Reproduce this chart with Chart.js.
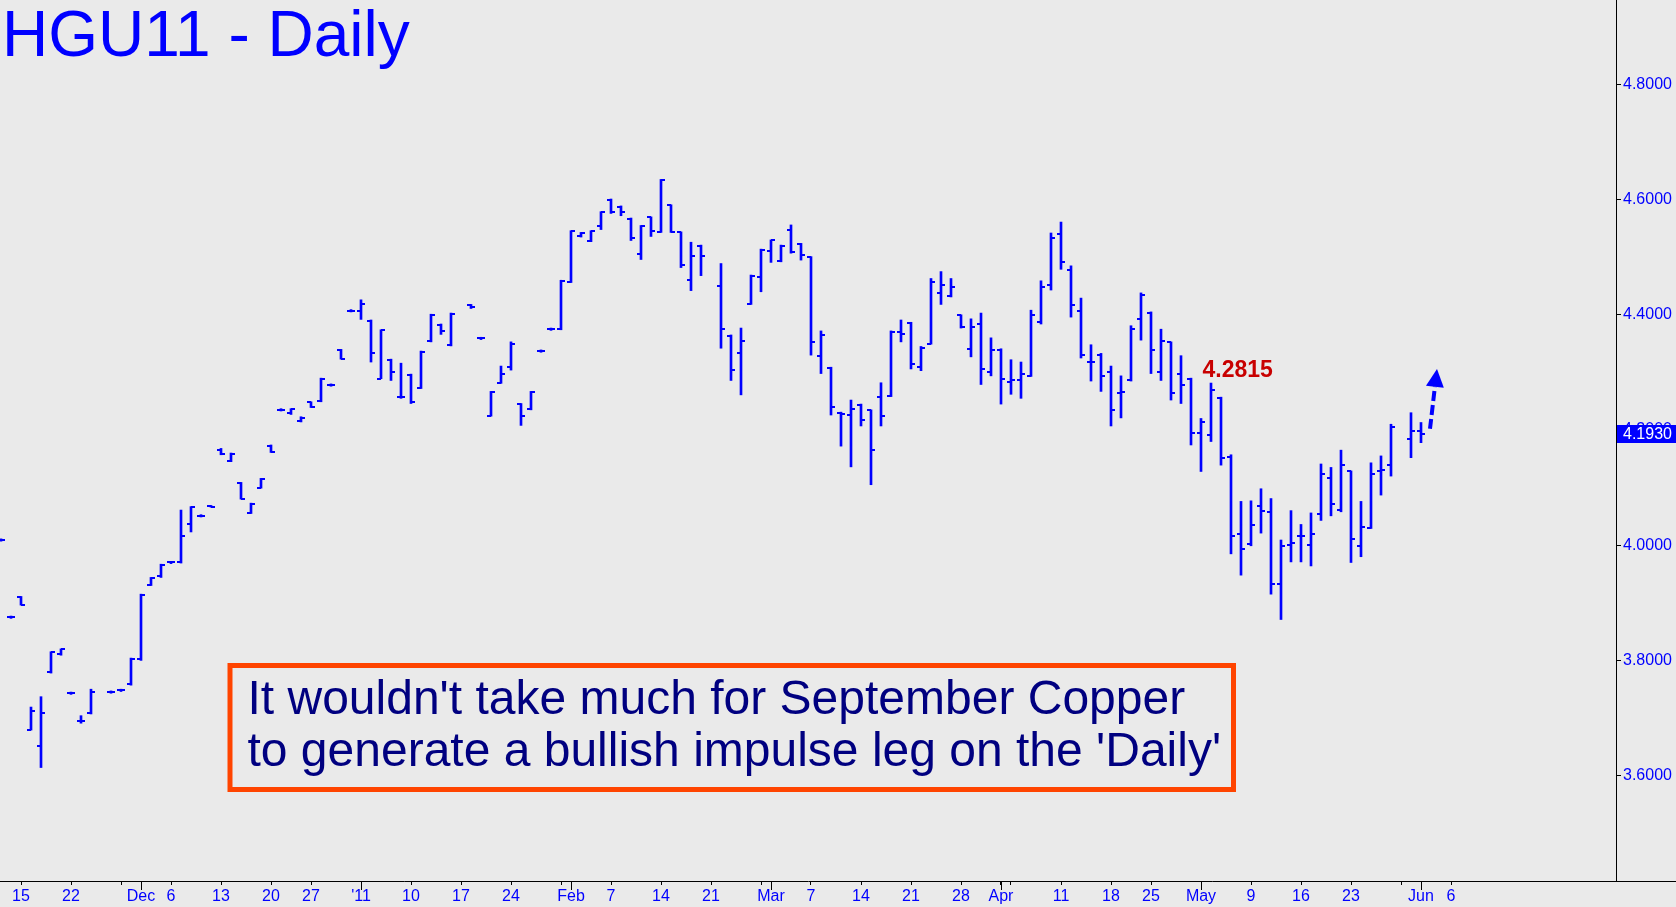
<!DOCTYPE html>
<html>
<head>
<meta charset="utf-8">
<script src="https://cdn.jsdelivr.net/npm/chart.js@4.4.1/dist/chart.umd.min.js"></script>
<style>
  html, body { margin: 0; padding: 0; background: #EAEAEA; }
  #wrap { width: 1676px; height: 907px; }
</style>
</head>
<body>
<div id="wrap"><canvas id="priceChart" width="1676" height="907"></canvas></div>
<script>
// ── Daily bars, HGU11 (slot = trading-day index, Nov 15 = 0) ──
const slots = [-2, -1, 0, 1, 2, 3, 4, 5, 6, 7, 9, 10, 11, 12, 13, 14, 15, 16, 17, 18, 19,
  20, 21, 22, 23, 24, 25, 26, 27, 28, 29, 30, 31, 32, 33, 34, 35, 36, 37, 38, 39,
  40, 41, 42, 43, 45, 46, 47, 48, 49, 50, 51, 52, 53, 54, 55, 56, 57, 58, 59,
  60, 61, 62, 63, 64, 65, 66, 67, 68, 70, 71, 72, 73, 74, 75, 76, 77, 78, 79,
  80, 81, 82, 83, 84, 85, 86, 87, 88, 89, 90, 91, 92, 93, 94, 95, 96, 97, 98, 99,
  100, 101, 102, 103, 104, 105, 106, 107, 108, 109, 110, 111, 112, 113, 114, 115, 116, 117, 118, 119,
  120, 121, 122, 123, 124, 125, 126, 127, 128, 129, 130, 131, 132, 133, 134, 135, 136, 137, 139, 140];

const highs = [4.011, 3.877, 3.911, 3.719, 3.737, 3.815, 3.820, 3.745, 3.704, 3.750, 3.747, 3.750, 3.804, 3.915, 3.944, 3.967, 3.972, 4.061, 4.067, 4.053, 4.069,
  4.168, 4.160, 4.109, 4.073, 4.116, 4.174, 4.237, 4.237, 4.223, 4.249, 4.290, 4.280, 4.340, 4.409, 4.426, 4.391, 4.374, 4.323, 4.316, 4.297,
  4.337, 4.401, 4.384, 4.403, 4.418, 4.361, 4.267, 4.311, 4.353, 4.246, 4.267, 4.339, 4.377, 4.460, 4.546, 4.543, 4.546, 4.579, 4.601,
  4.589, 4.568, 4.555, 4.570, 4.635, 4.591, 4.544, 4.526, 4.521, 4.489, 4.365, 4.377, 4.469, 4.514, 4.530, 4.521, 4.556, 4.524, 4.501,
  4.372, 4.309, 4.231, 4.252, 4.245, 4.235, 4.282, 4.372, 4.391, 4.387, 4.345, 4.463, 4.475, 4.463, 4.400, 4.393, 4.403, 4.360, 4.341, 4.322,
  4.318, 4.408, 4.459, 4.542, 4.561, 4.485, 4.429, 4.348, 4.333, 4.311, 4.294, 4.381, 4.438, 4.405, 4.375, 4.353, 4.329, 4.290, 4.220, 4.2815,
  4.257, 4.157, 4.076, 4.077, 4.098, 4.081, 4.009, 4.060, 4.036, 4.056, 4.141, 4.135, 4.165, 4.129, 4.076, 4.143, 4.155, 4.210, 4.230, 4.213];

const lows = [4.007, 3.873, 3.896, 3.679, 3.614, 3.778, 3.809, 3.741, 3.691, 3.707, 3.743, 3.746, 3.757, 3.800, 3.930, 3.944, 3.968, 3.969, 4.023, 4.049, 4.066,
  4.157, 4.145, 4.080, 4.055, 4.099, 4.161, 4.233, 4.227, 4.214, 4.239, 4.249, 4.276, 4.323, 4.405, 4.392, 4.318, 4.289, 4.286, 4.255, 4.246,
  4.272, 4.353, 4.366, 4.346, 4.411, 4.357, 4.224, 4.281, 4.304, 4.208, 4.235, 4.335, 4.373, 4.374, 4.456, 4.535, 4.527, 4.548, 4.576,
  4.572, 4.529, 4.496, 4.536, 4.543, 4.543, 4.482, 4.442, 4.468, 4.342, 4.286, 4.261, 4.418, 4.440, 4.491, 4.492, 4.507, 4.495, 4.330,
  4.298, 4.226, 4.172, 4.136, 4.207, 4.105, 4.207, 4.258, 4.353, 4.306, 4.303, 4.349, 4.418, 4.431, 4.377, 4.327, 4.279, 4.294, 4.245, 4.262,
  4.255, 4.293, 4.384, 4.443, 4.479, 4.396, 4.325, 4.285, 4.267, 4.207, 4.221, 4.285, 4.356, 4.298, 4.286, 4.252, 4.246, 4.174, 4.128, 4.180,
  4.139, 3.985, 3.948, 3.999, 4.021, 3.915, 3.871, 3.971, 3.971, 3.964, 4.043, 4.051, 4.058, 3.970, 3.980, 4.029, 4.087, 4.120, 4.152, 4.178];

const opens = [4.009, 3.875, 3.910, 3.680, 3.651, 3.779, 3.811, 3.743, 3.694, 3.708, 3.745, 3.748, 3.759, 3.802, 3.931, 3.946, 3.970, 3.970, 4.037, 4.051, 4.068,
  4.165, 4.147, 4.108, 4.056, 4.100, 4.173, 4.235, 4.229, 4.215, 4.248, 4.250, 4.278, 4.339, 4.407, 4.407, 4.390, 4.289, 4.322, 4.257, 4.296,
  4.273, 4.354, 4.383, 4.347, 4.417, 4.359, 4.225, 4.282, 4.310, 4.245, 4.236, 4.337, 4.375, 4.375, 4.457, 4.536, 4.528, 4.554, 4.600,
  4.588, 4.567, 4.506, 4.569, 4.544, 4.590, 4.543, 4.460, 4.520, 4.450, 4.364, 4.333, 4.419, 4.465, 4.511, 4.493, 4.547, 4.523, 4.500,
  4.329, 4.308, 4.230, 4.226, 4.244, 4.234, 4.258, 4.259, 4.370, 4.386, 4.310, 4.350, 4.438, 4.433, 4.399, 4.341, 4.384, 4.301, 4.339, 4.284,
  4.286, 4.293, 4.388, 4.451, 4.540, 4.477, 4.407, 4.318, 4.331, 4.300, 4.264, 4.286, 4.392, 4.403, 4.301, 4.352, 4.298, 4.289, 4.195, 4.191,
  4.256, 4.153, 4.019, 4.002, 4.068, 4.057, 3.933, 4.000, 4.016, 4.000, 4.054, 4.117, 4.061, 4.128, 3.998, 4.030, 4.129, 4.140, 4.184, 4.198];

const closes = [4.009, 3.875, 3.897, 3.712, 3.709, 3.814, 3.820, 3.743, 3.695, 3.745, 3.745, 3.748, 3.803, 3.914, 3.943, 3.966, 3.970, 4.016, 4.066, 4.050, 4.067,
  4.158, 4.159, 4.081, 4.072, 4.115, 4.162, 4.235, 4.236, 4.221, 4.240, 4.289, 4.278, 4.324, 4.407, 4.418, 4.334, 4.373, 4.301, 4.258, 4.249,
  4.336, 4.400, 4.372, 4.402, 4.413, 4.359, 4.266, 4.297, 4.350, 4.225, 4.266, 4.337, 4.375, 4.459, 4.545, 4.542, 4.545, 4.578, 4.578,
  4.579, 4.533, 4.554, 4.545, 4.634, 4.544, 4.486, 4.502, 4.502, 4.375, 4.304, 4.354, 4.468, 4.513, 4.529, 4.519, 4.509, 4.504, 4.352,
  4.365, 4.240, 4.228, 4.237, 4.217, 4.165, 4.224, 4.371, 4.367, 4.315, 4.343, 4.457, 4.452, 4.448, 4.378, 4.378, 4.306, 4.339, 4.289, 4.287,
  4.297, 4.400, 4.449, 4.534, 4.492, 4.417, 4.330, 4.318, 4.293, 4.234, 4.266, 4.376, 4.435, 4.339, 4.355, 4.264, 4.278, 4.195, 4.214, 4.269,
  4.152, 4.016, 3.993, 4.035, 4.060, 3.933, 3.999, 4.003, 4.016, 4.019, 4.124, 4.072, 4.139, 4.011, 4.032, 4.124, 4.130, 4.205, 4.198, 4.193];

// Date axis: weekly ticks plus month starts
const xTickSlots = [0, 5, 10, 12, 15, 20, 25, 29, 34, 39, 44, 49, 54, 55, 59, 64, 69, 74, 75, 79,
  84, 89, 94, 98, 99, 104, 109, 113, 118, 123, 128, 133, 138, 140, 143];
const xTickLabels = ['15', '22', '', 'Dec', '6', '13', '20', '27', "'11", '10', '17', '24', '', 'Feb', '7', '14', '21', '', 'Mar', '7',
  '14', '21', '28', 'Apr', '', '11', '18', '25', 'May', '9', '16', '23', '', 'Jun', '6'];
const monthSlots = [12, 34, 55, 75, 98, 118, 140];

// Price axis
const yTicks = [3.6, 3.8, 4.0, 4.2, 4.4, 4.6, 4.8];

// Annotations
const peakSlot = 119;
const peakValue = 4.2815;
const lastPrice = 4.1930;
const arrowTail = { x: 140.9, y: 4.202 };
const arrowTip = { x: 141.6, y: 4.306 };

const BLUE = '#0000FF';
const FONT = "'Liberation Sans', Arial, sans-serif";

// Tick images for open (left) and close (right)
function makeTick(side) {
  const c = document.createElement('canvas');
  c.width = 8;
  c.height = 2;
  const g = c.getContext('2d');
  g.fillStyle = BLUE;
  g.fillRect(side === 'left' ? 0 : 4, 0, 4, 2);
  return c;
}

// Drop the label padding Chart.js reserves, so the plot fills the frame
function noPadding(scale) {
  scale.paddingTop = 0;
  scale.paddingBottom = 0;
  scale.paddingLeft = 0;
  scale.paddingRight = 0;
}

// ── Overlay drawing: background, title, notes ──
const overlay = {
  id: 'overlay',
  beforeDraw(chart) {
    const ctx = chart.ctx;
    ctx.save();
    ctx.fillStyle = '#EAEAEA';
    ctx.fillRect(0, 0, chart.width, chart.height);
    ctx.restore();
  },
  afterDraw(chart) {
    const ctx = chart.ctx;
    const xs = chart.scales.x;
    const ys = chart.scales.y;
    const area = chart.chartArea;
    ctx.save();

    // long month ticks + axis line under price scale
    ctx.strokeStyle = '#000';
    ctx.lineWidth = 1;
    ctx.beginPath();
    monthSlots.forEach(s => {
      const px = Math.round(xs.getPixelForValue(s)) + 0.5;
      ctx.moveTo(px, area.bottom);
      ctx.lineTo(px, area.bottom + 9);
    });
    ctx.moveTo(area.right, area.bottom + 0.5);
    ctx.lineTo(chart.width, area.bottom + 0.5);
    ctx.stroke();

    // title
    ctx.fillStyle = BLUE;
    ctx.font = '64px ' + FONT;
    ctx.textBaseline = 'alphabetic';
    ctx.textAlign = 'left';
    ctx.fillText('HGU11 - Daily', 2, 56);

    // peak label
    ctx.fillStyle = '#C80000';
    ctx.font = 'bold 23px ' + FONT;
    ctx.fillText(peakValue.toFixed(4), xs.getPixelForValue(peakSlot) - 8.5, ys.getPixelForValue(peakValue) - 6.4);

    // dashed arrow
    const tx = xs.getPixelForValue(arrowTail.x), ty = ys.getPixelForValue(arrowTail.y);
    const hx = xs.getPixelForValue(arrowTip.x), hy = ys.getPixelForValue(arrowTip.y);
    const ang = Math.atan2(hy - ty, hx - tx);
    const headLen = 18, headW = 9;
    const bx = hx - headLen * Math.cos(ang), by = hy - headLen * Math.sin(ang);
    ctx.strokeStyle = BLUE;
    ctx.lineWidth = 4;
    ctx.setLineDash([10, 4]);
    ctx.beginPath();
    ctx.moveTo(tx, ty);
    ctx.lineTo(bx, by);
    ctx.stroke();
    ctx.setLineDash([]);
    ctx.fillStyle = BLUE;
    ctx.beginPath();
    ctx.moveTo(hx, hy);
    ctx.lineTo(bx + headW * Math.sin(ang), by - headW * Math.cos(ang));
    ctx.lineTo(bx - headW * Math.sin(ang), by + headW * Math.cos(ang));
    ctx.closePath();
    ctx.fill();

    // comment box
    ctx.strokeStyle = '#FF4400';
    ctx.lineWidth = 5;
    ctx.strokeRect(230, 665.5, 1003.5, 124);
    ctx.fillStyle = '#000080';
    ctx.font = '48px ' + FONT;
    ctx.fillText("It wouldn't take much for September Copper", 247.5, 714);
    ctx.fillText("to generate a bullish impulse leg on the 'Daily'", 247.5, 765.5);

    // last price marker
    const ly = ys.getPixelForValue(lastPrice);
    ctx.fillStyle = BLUE;
    ctx.fillRect(area.right + 1, Math.round(ly - 9), chart.width - area.right - 1, 18);
    ctx.fillStyle = '#FFFFFF';
    ctx.font = '16px ' + FONT;
    ctx.textBaseline = 'middle';
    ctx.fillText(lastPrice.toFixed(4), area.right + 7, ly + 1);

    ctx.restore();
  }
};

// ── OHLC chart ──
new Chart(document.getElementById('priceChart').getContext('2d'), {
  type: 'bar',
  data: {
    datasets: [
      {
        label: 'range',
        data: slots.map((s, i) => ({ x: s, y: [lows[i], highs[i]] })),
        backgroundColor: BLUE,
        borderWidth: 0,
        barThickness: 2,
        order: 2
      },
      {
        type: 'line',
        label: 'open',
        data: slots.map((s, i) => ({ x: s, y: opens[i] })),
        showLine: false,
        borderWidth: 0,
        pointBorderWidth: 0,
        pointStyle: makeTick('left'),
        pointRadius: 1,
        order: 1
      },
      {
        type: 'line',
        label: 'close',
        data: slots.map((s, i) => ({ x: s, y: closes[i] })),
        showLine: false,
        borderWidth: 0,
        pointBorderWidth: 0,
        pointStyle: makeTick('right'),
        pointRadius: 1,
        order: 1
      }
    ]
  },
  options: {
    responsive: false,
    animation: false,
    layout: { padding: 0, autoPadding: false },
    plugins: { legend: { display: false }, tooltip: { enabled: false }, title: { display: false } },
    scales: {
      x: {
        type: 'linear',
        min: -2.1,
        max: 159.5,
        offset: false,
        grid: { display: true, drawOnChartArea: false, offset: false, tickLength: 4, color: '#000' },
        border: { display: true, color: '#000', width: 1 },
        ticks: {
          color: BLUE,
          font: { family: FONT, size: 16 },
          padding: 2,
          autoSkip: false,
          maxRotation: 0,
          callback: (v, i) => xTickLabels[i]
        },
        afterBuildTicks: scale => { scale.ticks = xTickSlots.map(v => ({ value: v })); },
        afterFit: scale => { scale.height = 26; noPadding(scale); }
      },
      y: {
        type: 'linear',
        position: 'right',
        min: 3.41701,
        max: 4.94653,
        grid: { display: true, drawOnChartArea: false, tickLength: 5, color: '#000' },
        border: { display: true, color: '#000', width: 1 },
        ticks: {
          color: BLUE,
          font: { family: FONT, size: 16 },
          padding: 2,
          callback: v => Number(v).toFixed(4)
        },
        afterBuildTicks: scale => { scale.ticks = yTicks.map(v => ({ value: v })); },
        afterFit: scale => { scale.width = 60; noPadding(scale); }
      }
    }
  },
  plugins: [overlay]
});
</script>
</body>
</html>
